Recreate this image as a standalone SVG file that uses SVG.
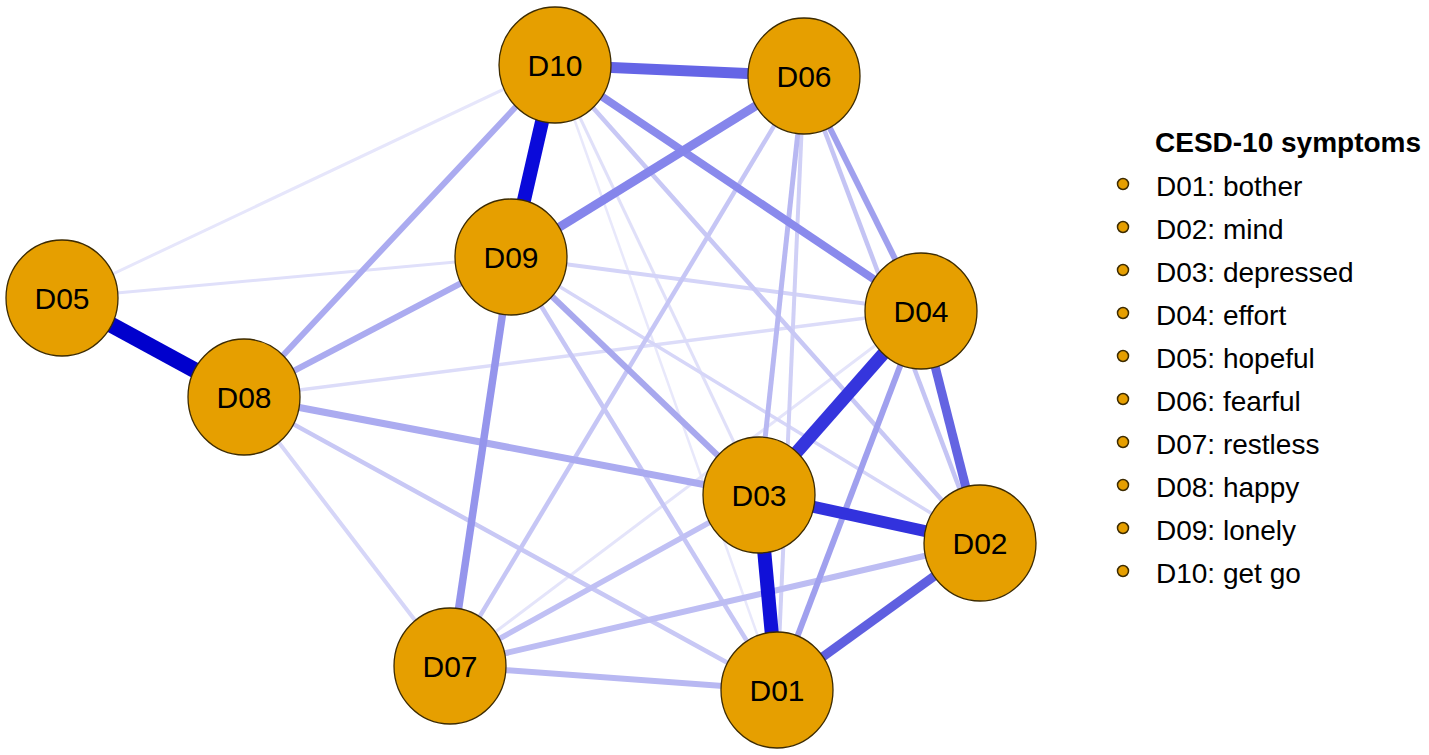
<svg xmlns="http://www.w3.org/2000/svg" width="1429" height="755" viewBox="0 0 1429 755">
<style>
.e{fill:none;stroke-linecap:butt}
.n{fill:#E69F00;stroke:#3d2b00;stroke-width:1.3}
.nl{font-family:"Liberation Sans",Arial,sans-serif;font-size:30px;fill:#000;text-anchor:middle}
.lt{font-family:"Liberation Sans",Arial,sans-serif;font-size:28px;font-weight:bold;fill:#000}
.li{font-family:"Liberation Sans",Arial,sans-serif;font-size:28px;fill:#000}
.ld{fill:#E69F00;stroke:#3d2b00;stroke-width:1.5}
</style>
<rect width="1429" height="755" fill="#fff"/>
<g id="connectors">
<line class="e" x1="555" y1="65" x2="777" y2="690" stroke="#E8E8FB" stroke-width="2.5"/>
<line class="e" x1="62" y1="298" x2="555" y2="65" stroke="#E6E6FB" stroke-width="3"/>
<line class="e" x1="62" y1="298" x2="511" y2="257" stroke="#E0E0FA" stroke-width="3"/>
<line class="e" x1="450" y1="666" x2="921" y2="311" stroke="#E4E4FA" stroke-width="3"/>
<line class="e" x1="555" y1="65" x2="759" y2="495" stroke="#E0E0F9" stroke-width="3"/>
<line class="e" x1="244" y1="397" x2="921" y2="311" stroke="#DCDCF9" stroke-width="3.5"/>
<line class="e" x1="511" y1="257" x2="980" y2="543" stroke="#D6D6F8" stroke-width="3.5"/>
<line class="e" x1="511" y1="257" x2="921" y2="311" stroke="#D4D4F8" stroke-width="4"/>
<line class="e" x1="244" y1="397" x2="450" y2="666" stroke="#D6D6F8" stroke-width="4"/>
<line class="e" x1="804" y1="76" x2="777" y2="690" stroke="#D0D0F6" stroke-width="4"/>
<line class="e" x1="244" y1="397" x2="777" y2="690" stroke="#C8C8F5" stroke-width="4.5"/>
<line class="e" x1="511" y1="257" x2="777" y2="690" stroke="#C6C6F5" stroke-width="4.5"/>
<line class="e" x1="555" y1="65" x2="980" y2="543" stroke="#C8C8F5" stroke-width="4.5"/>
<line class="e" x1="804" y1="76" x2="450" y2="666" stroke="#C6C6F5" stroke-width="4.5"/>
<line class="e" x1="804" y1="76" x2="980" y2="543" stroke="#C4C4F4" stroke-width="4.5"/>
<line class="e" x1="804" y1="76" x2="759" y2="495" stroke="#B8B8F2" stroke-width="5"/>
<line class="e" x1="450" y1="666" x2="759" y2="495" stroke="#C0C0F4" stroke-width="5.5"/>
<line class="e" x1="450" y1="666" x2="980" y2="543" stroke="#BDBDF3" stroke-width="6"/>
<line class="e" x1="450" y1="666" x2="777" y2="690" stroke="#B8B8F2" stroke-width="6"/>
<line class="e" x1="921" y1="311" x2="777" y2="690" stroke="#A0A0EE" stroke-width="6"/>
<line class="e" x1="511" y1="257" x2="759" y2="495" stroke="#A8A8EE" stroke-width="6"/>
<line class="e" x1="804" y1="76" x2="921" y2="311" stroke="#A0A0EE" stroke-width="6"/>
<line class="e" x1="244" y1="397" x2="511" y2="257" stroke="#ABABF0" stroke-width="6"/>
<line class="e" x1="244" y1="397" x2="555" y2="65" stroke="#ABABF0" stroke-width="6"/>
<line class="e" x1="244" y1="397" x2="759" y2="495" stroke="#ABABF0" stroke-width="7"/>
<line class="e" x1="511" y1="257" x2="450" y2="666" stroke="#9595EC" stroke-width="7.5"/>
<line class="e" x1="555" y1="65" x2="921" y2="311" stroke="#8A8AEC" stroke-width="8"/>
<line class="e" x1="511" y1="257" x2="804" y2="76" stroke="#8585EB" stroke-width="9"/>
<line class="e" x1="777" y1="690" x2="980" y2="543" stroke="#5F5FE0" stroke-width="9"/>
<line class="e" x1="921" y1="311" x2="980" y2="543" stroke="#6464E2" stroke-width="9"/>
<line class="e" x1="555" y1="65" x2="804" y2="76" stroke="#6565E6" stroke-width="11"/>
<line class="e" x1="759" y1="495" x2="980" y2="543" stroke="#3232DD" stroke-width="12"/>
<line class="e" x1="759" y1="495" x2="921" y2="311" stroke="#3535DD" stroke-width="13"/>
<line class="e" x1="759" y1="495" x2="777" y2="690" stroke="#1010D8" stroke-width="14"/>
<line class="e" x1="555" y1="65" x2="511" y2="257" stroke="#0A0ADA" stroke-width="14"/>
<line class="e" x1="62" y1="298" x2="244" y2="397" stroke="#0000CD" stroke-width="16"/>
</g>
<g id="D10"><ellipse class="n" cx="555" cy="65" rx="56" ry="58"/><text class="nl" x="555" y="76">D10</text></g>
<g id="D06"><ellipse class="n" cx="804" cy="76" rx="56" ry="58"/><text class="nl" x="804" y="87">D06</text></g>
<g id="D09"><ellipse class="n" cx="511" cy="257" rx="56" ry="58"/><text class="nl" x="511" y="268">D09</text></g>
<g id="D05"><ellipse class="n" cx="62" cy="298" rx="56" ry="58"/><text class="nl" x="62" y="309">D05</text></g>
<g id="D08"><ellipse class="n" cx="244" cy="397" rx="56" ry="58"/><text class="nl" x="244" y="408">D08</text></g>
<g id="D04"><ellipse class="n" cx="921" cy="311" rx="56" ry="58"/><text class="nl" x="921" y="322">D04</text></g>
<g id="D03"><ellipse class="n" cx="759" cy="495" rx="56" ry="58"/><text class="nl" x="759" y="506">D03</text></g>
<g id="D02"><ellipse class="n" cx="980" cy="543" rx="56" ry="58"/><text class="nl" x="980" y="554">D02</text></g>
<g id="D07"><ellipse class="n" cx="450" cy="666" rx="56" ry="58"/><text class="nl" x="450" y="677">D07</text></g>
<g id="D01"><ellipse class="n" cx="777" cy="690" rx="56" ry="58"/><text class="nl" x="777" y="701">D01</text></g>
<g id="legend">
<text class="lt" x="1155" y="152">CESD-10 symptoms</text>
<circle class="ld" cx="1123" cy="184" r="5.5"/><text class="li" x="1156" y="196">D01: bother</text>
<circle class="ld" cx="1123" cy="227" r="5.5"/><text class="li" x="1156" y="239">D02: mind</text>
<circle class="ld" cx="1123" cy="270" r="5.5"/><text class="li" x="1156" y="282">D03: depressed</text>
<circle class="ld" cx="1123" cy="313" r="5.5"/><text class="li" x="1156" y="325">D04: effort</text>
<circle class="ld" cx="1123" cy="356" r="5.5"/><text class="li" x="1156" y="368">D05: hopeful</text>
<circle class="ld" cx="1123" cy="399" r="5.5"/><text class="li" x="1156" y="411">D06: fearful</text>
<circle class="ld" cx="1123" cy="442" r="5.5"/><text class="li" x="1156" y="454">D07: restless</text>
<circle class="ld" cx="1123" cy="485" r="5.5"/><text class="li" x="1156" y="497">D08: happy</text>
<circle class="ld" cx="1123" cy="528" r="5.5"/><text class="li" x="1156" y="540">D09: lonely</text>
<circle class="ld" cx="1123" cy="571" r="5.5"/><text class="li" x="1156" y="583">D10: get go</text>
</g>
</svg>
